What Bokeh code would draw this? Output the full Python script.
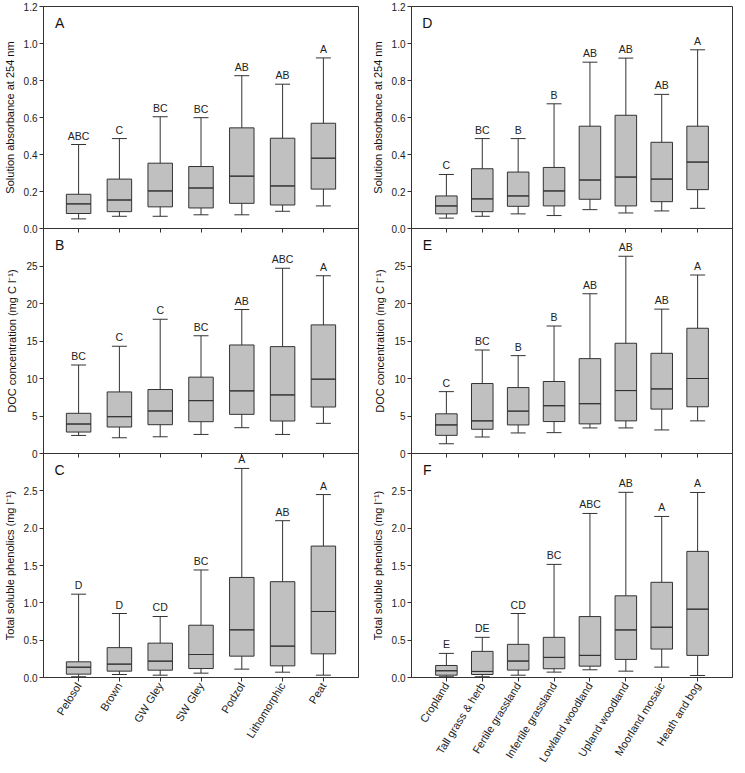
import math
from bokeh.plotting import figure
from bokeh.models import (ColumnDataSource, Whisker, TeeHead, FixedTicker,
                          NumeralTickFormatter, FactorRange, Range1d)
from bokeh.layouts import row, column
from bokeh.embed import file_html
from bokeh.resources import INLINE
from bokeh.core.properties import value

FONT = "Liberation Sans"
LINE = "#333333"
FILL = "#c0c0c0"

soil = ["Pelosol", "Brown", "GW Gley", "SW Gley", "Podzol", "Lithomorphic", "Peat"]
habitat = ["Cropland", "Tall grass & herb", "Fertile grassland", "Infertile grassland",
           "Lowland woodland", "Upland woodland", "Moorland mosaic", "Heath and bog"]

# Panel A: absorbance by soil
a_low = [0.052, 0.066, 0.066, 0.074, 0.074, 0.093, 0.122]
a_q1 = [0.081, 0.091, 0.117, 0.111, 0.136, 0.127, 0.213]
a_med = [0.133, 0.154, 0.203, 0.219, 0.283, 0.230, 0.380]
a_q3 = [0.185, 0.267, 0.353, 0.335, 0.544, 0.488, 0.569]
a_high = [0.454, 0.486, 0.604, 0.599, 0.826, 0.780, 0.922]
a_sig = ["ABC", "C", "BC", "BC", "AB", "AB", "A"]

# Panel B: DOC by soil
b_low = [2.41, 2.10, 2.23, 2.54, 3.44, 2.54, 4.02]
b_q1 = [2.86, 3.53, 3.84, 4.24, 5.22, 4.33, 6.20]
b_med = [3.93, 4.91, 5.67, 7.05, 8.35, 7.81, 9.91]
b_q3 = [5.36, 8.21, 8.53, 10.18, 14.47, 14.25, 17.15]
b_high = [11.8, 14.3, 17.9, 15.7, 19.2, 24.7, 23.7]
b_sig = ["BC", "C", "C", "BC", "AB", "ABC", "A"]

# Panel C: phenolics by soil
c_low = [0.01, 0.04, 0.031, 0.058, 0.112, 0.071, 0.031]
c_q1 = [0.045, 0.085, 0.098, 0.12, 0.286, 0.156, 0.317]
c_med = [0.138, 0.179, 0.219, 0.308, 0.638, 0.42, 0.884]
c_q3 = [0.21, 0.40, 0.46, 0.70, 1.34, 1.283, 1.76]
c_high = [1.116, 0.857, 0.817, 1.44, 2.80, 2.10, 2.45]
c_sig = ["D", "D", "CD", "BC", "A", "AB", "A"]

# Panel D: absorbance by habitat
d_low = [0.056, 0.066, 0.079, 0.070, 0.102, 0.084, 0.095, 0.109]
d_q1 = [0.079, 0.091, 0.120, 0.122, 0.158, 0.122, 0.145, 0.210]
d_med = [0.122, 0.160, 0.176, 0.203, 0.262, 0.278, 0.267, 0.359]
d_q3 = [0.176, 0.323, 0.305, 0.330, 0.553, 0.612, 0.466, 0.553]
d_high = [0.292, 0.486, 0.486, 0.674, 0.899, 0.921, 0.725, 0.966]
d_sig = ["C", "BC", "B", "B", "AB", "AB", "AB", "A"]

# Panel E: DOC by habitat
e_low = [1.30, 2.20, 2.74, 2.78, 3.41, 3.41, 3.14, 4.35]
e_q1 = [2.42, 3.23, 3.81, 4.26, 3.95, 4.35, 5.92, 6.23]
e_med = [3.81, 4.35, 5.65, 6.37, 6.64, 8.39, 8.61, 10.0]
e_q3 = [5.29, 9.33, 8.79, 9.60, 12.65, 14.7, 13.36, 16.7]
e_high = [8.25, 13.8, 13.05, 17.0, 21.3, 26.3, 19.25, 23.8]
e_sig = ["C", "BC", "B", "B", "AB", "AB", "AB", "A"]

# Panel F: phenolics by habitat
f_low = [0.01, 0.01, 0.031, 0.072, 0.103, 0.085, 0.139, 0.027]
f_q1 = [0.031, 0.04, 0.099, 0.117, 0.152, 0.242, 0.381, 0.296]
f_med = [0.09, 0.081, 0.22, 0.269, 0.296, 0.637, 0.673, 0.915]
f_q3 = [0.161, 0.35, 0.444, 0.538, 0.816, 1.094, 1.275, 1.689]
f_high = [0.323, 0.538, 0.857, 1.515, 2.197, 2.48, 2.157, 2.478]
f_sig = ["E", "DE", "CD", "BC", "ABC", "AB", "A", "A"]

abs_ticks = [0.0, 0.2, 0.4, 0.6, 0.8, 1.0, 1.2]
doc_ticks = [0, 5, 10, 15, 20, 25]
phe_ticks = [0.0, 0.5, 1.0, 1.5, 2.0, 2.5]

ABS_LABEL = "Solution absorbance at 254 nm"
DOC_LABEL = "DOC concentration (mg C l\u207b\u00b9)"
PHE_LABEL = "Total soluble phenolics (mg l\u207b\u00b9)"

OVER = 6  # px by which a lower panel overlaps the one above


def panel(cats, low, q1, med, q3, high, sig, ymax, ticks, fmt, ylabel, letter,
          pad, width, height, bl, br, bt, bb, overlap, bottom_labels):
    kw = {}
    if overlap:
        kw["margin"] = (-OVER, 0, 0, 0)
    p = figure(x_range=FactorRange(*cats, range_padding=pad),
               y_range=Range1d(0, ymax), width=width, height=height,
               output_backend="svg", toolbar_location=None,
               min_border_left=bl, min_border_right=br,
               min_border_top=bt, min_border_bottom=bb, **kw)
    p.grid.visible = False
    p.outline_line_color = LINE
    p.outline_line_width = 1
    if overlap:
        p.background_fill_color = None
        p.border_fill_color = None
    else:
        p.background_fill_color = "white"
        p.border_fill_color = "white"

    src = ColumnDataSource(dict(x=cats, low=low, q1=q1, med=med, q3=q3, high=high, sig=sig))
    w = Whisker(base="x", upper="high", lower="low", source=src, dimension="height",
                line_color=LINE, line_width=1, level="underlay",
                upper_head=TeeHead(size=15, line_color=LINE, line_width=1),
                lower_head=TeeHead(size=15, line_color=LINE, line_width=1))
    p.add_layout(w)
    p.vbar(x="x", bottom="q1", top="q3", width=0.6, source=src,
           fill_color=FILL, line_color=LINE, line_width=1)
    p.vbar(x="x", bottom="med", top="med", width=0.6, source=src,
           fill_alpha=0, line_color=LINE, line_width=1)
    p.text(x="x", y="high", text="sig", source=src, y_offset=-3,
           text_align="center", text_baseline="bottom",
           text_font=value(FONT), text_font_size="10.5px", text_color="#222222")
    p.text(x=[cats[0]], y=[ymax], text=[letter], x_offset=-19, y_offset=16,
           text_align="center", text_baseline="middle",
           text_font=value(FONT), text_font_size="14px", text_color="#111111")

    ya = p.yaxis[0]
    ya.ticker = FixedTicker(ticks=ticks)
    ya.formatter = NumeralTickFormatter(format=fmt)
    ya.axis_label = ylabel
    ya.axis_label_text_font = FONT
    ya.axis_label_text_font_style = "normal"
    ya.axis_label_text_font_size = "11px"
    ya.axis_label_standoff = 5
    ya.major_label_text_font = FONT
    ya.major_label_text_font_size = "10px"
    ya.major_label_standoff = 2
    ya.major_tick_in = 0
    ya.major_tick_out = 4
    ya.minor_tick_out = 0
    ya.minor_tick_in = 0
    ya.axis_line_color = LINE
    ya.major_tick_line_color = LINE
    ya.major_label_text_color = "#222222"
    ya.axis_label_text_color = "#111111"

    xa = p.xaxis[0]
    xa.major_tick_in = 0
    xa.major_tick_out = 4
    xa.axis_line_color = LINE
    xa.major_tick_line_color = LINE
    if bottom_labels:
        xa.major_label_orientation = math.radians(58)
        xa.major_label_text_font = FONT
        xa.major_label_text_font_size = "11px"
        xa.major_label_text_color = "#222222"
        xa.major_label_standoff = 2
    else:
        xa.major_label_text_font_size = "0px"
        xa.major_label_text_color = None
        xa.major_label_standoff = 0
    return p


LW, RW = 362, 373
LBL, LBR = 38, 4
RBL, RBR = 49, 3
BOT = 93
H1 = 6 + 222 + OVER
H2 = 225 + OVER
H3 = 224 + BOT

pA = panel(soil, a_low, a_q1, a_med, a_q3, a_high, a_sig, 1.2, abs_ticks, "0.0", ABS_LABEL, "A",
           0.103, LW, H1, LBL, LBR, 6, OVER, False, False)
pB = panel(soil, b_low, b_q1, b_med, b_q3, b_high, b_sig, 30, doc_ticks, "0", DOC_LABEL, "B",
           0.103, LW, H2, LBL, LBR, 0, OVER, True, False)
pC = panel(soil, c_low, c_q1, c_med, c_q3, c_high, c_sig, 3.0, phe_ticks, "0.0", PHE_LABEL, "C",
           0.103, LW, H3, LBL, LBR, 0, BOT, True, True)

pD = panel(habitat, d_low, d_q1, d_med, d_q3, d_high, d_sig, 1.2, abs_ticks, "0.0", ABS_LABEL, "D",
           0.118, RW, H1, RBL, RBR, 6, OVER, False, False)
pE = panel(habitat, e_low, e_q1, e_med, e_q3, e_high, e_sig, 30, doc_ticks, "0", DOC_LABEL, "E",
           0.118, RW, H2, RBL, RBR, 0, OVER, True, False)
pF = panel(habitat, f_low, f_q1, f_med, f_q3, f_high, f_sig, 3.0, phe_ticks, "0.0", PHE_LABEL, "F",
           0.118, RW, H3, RBL, RBR, 0, BOT, True, True)

layout = row(column(pA, pB, pC), column(pD, pE, pF))

open("out.html", "w").write(file_html(layout, INLINE))
